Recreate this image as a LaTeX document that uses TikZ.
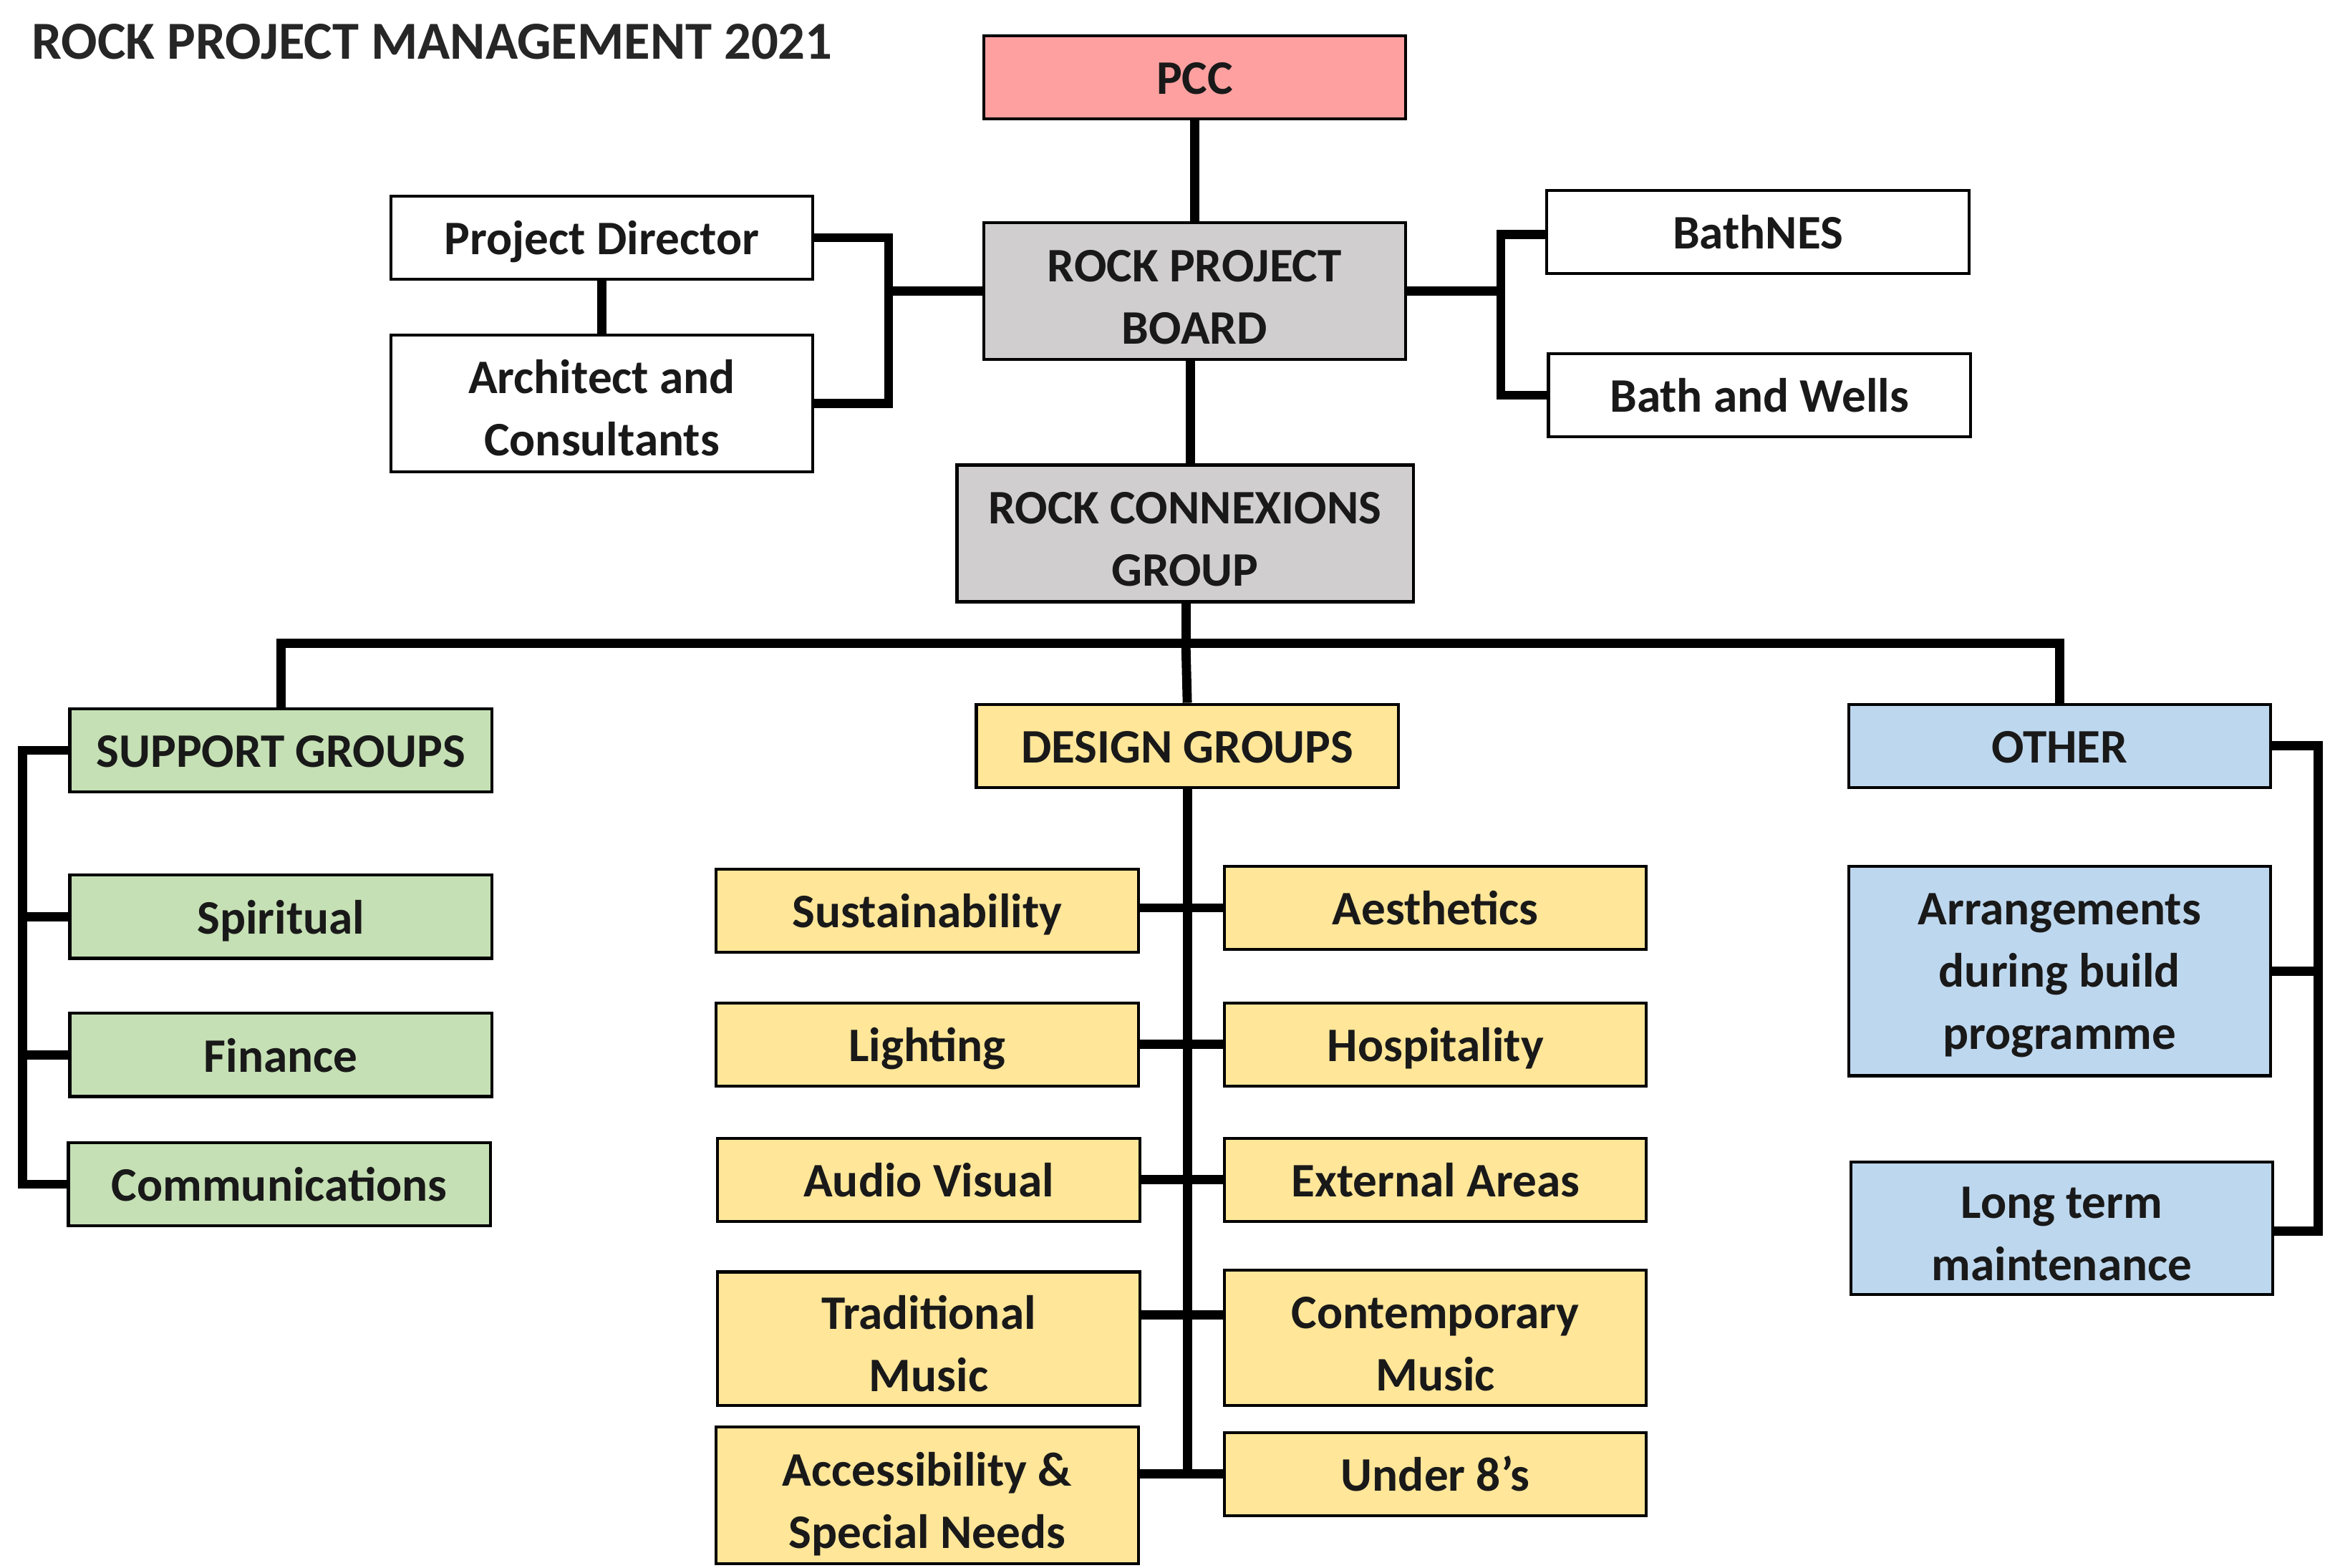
\documentclass[tikz,border=0pt]{standalone}
\usepackage{fontspec}
\setmainfont{Carlito}
\definecolor{pcc}{RGB}{255,160,160}
\definecolor{board}{RGB}{208,206,206}
\definecolor{sup}{RGB}{197,224,180}
\definecolor{des}{RGB}{255,230,153}
\definecolor{oth}{RGB}{189,215,238}
\begin{document}
\begin{tikzpicture}[x=0.5pt,y=-0.5pt,
  box/.style={draw=black,line width=1pt,rectangle,minimum width=142pt,minimum height=28pt,inner sep=0pt,align=center,font=\fontsize{16.2}{21}\selectfont\bfseries,text=black!90,text height=14pt,text depth=2.6pt},
  tall/.style={minimum height=46pt,text height=37pt,text depth=1.6pt},
  triple/.style={text height=56pt,text depth=3.1pt},
  conn/.style={line width=3.1pt,draw=black}]
\useasboundingbox (0,0) rectangle (1568,1055);
\node[anchor=west,font=\fontsize{18}{21}\selectfont\bfseries,text=black!85,inner sep=0pt] (title) at (21,28) {ROCK PROJECT MANAGEMENT 2021};
% top
\node[box,fill=pcc] (pcc) at (804,52) {PCC};
\node[box,tall,fill=board] (board) at (804,196) {ROCK PROJECT\\BOARD};
\node[box,fill=white] (pd) at (405,160) {Project Director};
\node[box,tall,fill=white] (arch) at (405,271.5) {Architect and\\Consultants};
\node[box,fill=white] (bathnes) at (1183,156) {BathNES};
\node[box,fill=white] (bw) at (1184,266) {Bath and Wells};
\node[box,tall,fill=board,minimum width=153.5pt] (rcg) at (797.5,359) {ROCK CONNEXIONS\\GROUP};
% groups
\node[box,fill=sup] (support) at (189,505) {SUPPORT GROUPS};
\node[box,fill=des] (design) at (799,502) {DESIGN GROUPS};
\node[box,fill=oth] (other) at (1386,502) {OTHER};
% support
\node[box,fill=sup] (spir) at (189,617) {Spiritual};
\node[box,fill=sup] (fin) at (189,710) {Finance};
\node[box,fill=sup] (comm) at (188,797) {Communications};
% design
\node[box,fill=des] (sust) at (624,613) {Sustainability};
\node[box,fill=des] (aest) at (966,611) {Aesthetics};
\node[box,fill=des] (light) at (624,703) {Lighting};
\node[box,fill=des] (hosp) at (966,703) {Hospitality};
\node[box,fill=des] (av) at (625,794) {Audio Visual};
\node[box,fill=des] (ext) at (966,794) {External Areas};
\node[box,tall,fill=des,minimum height=45pt] (trad) at (625,901) {Traditional\\Music};
\node[box,tall,fill=des,minimum height=45.5pt] (cont) at (966,900.5) {Contemporary\\Music};
\node[box,tall,fill=des] (acc) at (624,1006.5) {Accessibility \&\\Special Needs};
\node[box,fill=des] (u8) at (966,992) {Under 8’s};
% other
\node[box,triple,fill=oth,minimum height=70.5pt] (arr) at (1386,653.5) {Arrangements\\during build\\programme};
\node[box,tall,fill=oth,minimum height=44.5pt] (ltm) at (1387.5,826.5) {Long term\\maintenance};
% connectors
\coordinate (jl) at (598,190);
\coordinate (jr) at (1010,212);
\coordinate (bus) at (798,433);
\coordinate (lb) at (15,650);
\coordinate (rb) at (1560,650);
\coordinate (spine) at (799,992);
\coordinate (tc) at (799,885);
\draw[conn] (pcc.south) -- (board.north);
\draw[conn] ([xshift=-1.5pt]board.south) -- ([xshift=-1.5pt]rcg.north -| board.south);
\draw[conn] (pd.south) -- (arch.north);
\draw[conn] (pd.east) -| (jl) |- (arch.east);
\draw[conn] (board.west) -- (board.west -| jl);
\draw[conn] (board.east) -- (board.east -| jr);
\draw[conn] ([yshift=-1pt]bathnes.west) -| (jr) |- (bw.west);
\draw[conn] (rcg.south -| bus) -- (bus);
\draw[conn] (support.north) |- (bus) -| (other.north);
\draw[conn] (bus) -- (design.north);
\draw[conn] (support.west) -| (lb) |- (comm.west);
\draw[conn] (spir.west) -- (spir.west -| lb);
\draw[conn] (fin.west) -- (fin.west -| lb);
\draw[conn] (other.east) -| (rb) |- ([yshift=-1pt]ltm.east);
\draw[conn] (arr.east) -- (arr.east -| rb);
\draw[conn] (design.south) -- (spine);
\draw[conn] (aest.west) -- (aest.west -| sust.east);
\draw[conn] (hosp.west) -- (hosp.west -| light.east);
\draw[conn] (ext.west) -- (ext.west -| av.east);
\draw[conn] (trad.east |- tc) -- (cont.west |- tc);
\draw[conn] (u8.west) -- (u8.west -| acc.east);
\end{tikzpicture}
\end{document}
